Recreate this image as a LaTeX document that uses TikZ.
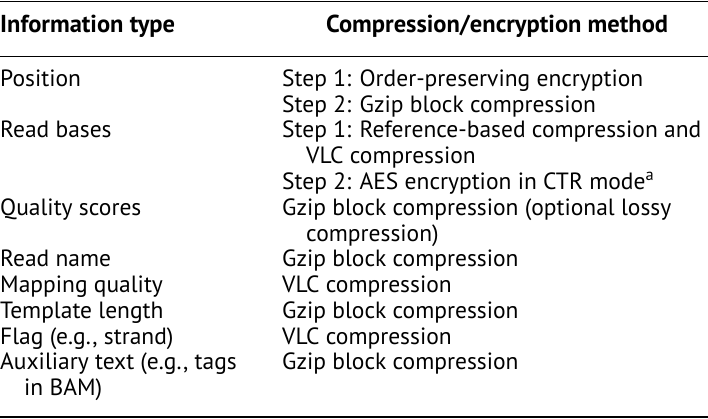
\documentclass[tikz,border=0pt]{standalone}
\usepackage{fontspec}
\setmainfont{PT Sans}
\begin{document}
\begin{tikzpicture}[x=1pt,y=-1pt,font=\fontsize{23.5}{26}\selectfont,
  c/.style={anchor=mid west,inner sep=0pt}, h/.style={c,font=\fontsize{24.5}{26}\selectfont\bfseries}]
\useasboundingbox (0,0) rectangle (708,419);
\draw[line width=1.2pt] (0,1.5) -- (708,1.5);
\draw[line width=0.8pt] (0,56) -- (708,56);
\draw[line width=1.2pt] (0,417) -- (708,417);
\node[h] (h1) at (0,30) {Information type};
\node[h] (h2) at (326,30) {Compression/encryption method};
\def\sp{25.75}
\foreach \i/\a/\b in {0/Position/{Step 1: Order-preserving encryption},
  1/{}/{Step 2: Gzip block compression},
  2/Read bases/{Step 1: Reference-based compression and},
  3/{}/{\hspace{24pt}VLC compression},
  4/{}/{Step 2: AES encryption in CTR mode\textsuperscript{a}},
  5/Quality scores/{Gzip block compression (optional lossy},
  6/{}/{\hspace{24pt}compression)},
  7/Read name/{Gzip block compression},
  8/Mapping quality/{VLC compression},
  9/Template length/{Gzip block compression},
  10/{Flag (e.g., strand)}/{VLC compression},
  11/{Auxiliary text (e.g., tags}/{Gzip block compression},
  12/{\hspace{24pt}in BAM)}/{}}
{
  \node[c] (a\i) at (0,84+\i*\sp) {\a};
  \node[c] (b\i) at (282,84+\i*\sp) {\b};
}
\end{tikzpicture}
\end{document}
